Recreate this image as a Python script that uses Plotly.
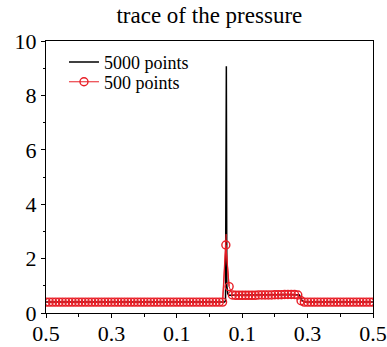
import numpy as np
import plotly.graph_objects as go

# 5000-point solution (key points)
black_x = [-0.5, 0.046, 0.049, 0.0515, 0.053, 0.056, 0.06, 0.10, 0.15, 0.20, 0.24, 0.265, 0.275, 0.283, 0.29, 0.5]
black_y = [0.40, 0.40, 0.45, 9.07, 1.00, 0.70, 0.65, 0.65, 0.66, 0.67, 0.68, 0.68, 0.66, 0.45, 0.40, 0.40]

# 500-point solution, sampled every 0.01
red_x = np.round(np.arange(-0.5, 0.5001, 0.01), 3)
red_y = [
    0.40, 0.40, 0.40, 0.40, 0.40, 0.40, 0.40, 0.40, 0.40, 0.40,
    0.40, 0.40, 0.40, 0.40, 0.40, 0.40, 0.40, 0.40, 0.40, 0.40,
    0.40, 0.40, 0.40, 0.40, 0.40, 0.40, 0.40, 0.40, 0.40, 0.40,
    0.40, 0.40, 0.40, 0.40, 0.40, 0.40, 0.40, 0.40, 0.40, 0.40,
    0.40, 0.40, 0.40, 0.40, 0.40, 0.40, 0.40, 0.40, 0.40, 0.40,
    0.40, 0.40, 0.40, 0.40, 0.40,
    2.50, 0.97,
    0.66, 0.65, 0.65, 0.65, 0.65, 0.65, 0.65, 0.65, 0.66, 0.66,
    0.66, 0.66, 0.66, 0.67, 0.67, 0.67, 0.68, 0.68, 0.68, 0.68,
    0.66, 0.45,
    0.40, 0.40, 0.40, 0.40, 0.40, 0.40, 0.40, 0.40, 0.40, 0.40,
    0.40, 0.40, 0.40, 0.40, 0.40, 0.40, 0.40, 0.40, 0.40, 0.40,
    0.40, 0.40,
]
# spike of the 500-point line between markers
red_spike_x = [0.04, 0.051, 0.05, 0.06]
red_spike_y = [0.40, 2.90, 2.50, 0.97]

x_tickvals = [-0.5, -0.3, -0.1, 0.1, 0.3, 0.5]
x_ticktext = ["0.5", "0.3", "0.1", "0.1", "0.3", "0.5"]
y_tickvals = [0, 2, 4, 6, 8, 10]

RED = "rgb(232,30,38)"
FONT = "Liberation Serif, Times New Roman, serif"

fig = go.Figure()
fig.add_trace(go.Scatter(x=black_x, y=black_y, mode="lines", name="5000 points",
                         line=dict(color="black", width=1.5), legend="legend"))
fig.add_trace(go.Scatter(x=red_spike_x, y=red_spike_y, mode="lines", showlegend=False,
                         line=dict(color=RED, width=1.2)))
fig.add_trace(go.Scatter(x=red_x, y=red_y, mode="lines+markers", name="500 points",
                         line=dict(color=RED, width=1), legend="legend2",
                         marker=dict(symbol="circle-open", size=8, color=RED,
                                     line=dict(width=1.4, color=RED))))

legend_style = dict(xanchor="left", yanchor="top", bgcolor="rgba(0,0,0,0)",
                    font=dict(size=18, family=FONT), tracegroupgap=0, itemwidth=30)

fig.update_layout(
    width=387, height=347,
    margin=dict(l=46, r=14, t=41, b=34, autoexpand=False),
    plot_bgcolor="white", paper_bgcolor="white",
    font=dict(family=FONT, color="black", size=22),
    title=dict(text="trace of the pressure", x=0.541, xanchor="center",
               y=0.935, yanchor="bottom", font=dict(size=23, family=FONT)),
    showlegend=True,
    legend=dict(x=0.055, y=0.99, **legend_style),
    legend2=dict(x=0.055, y=0.917, **legend_style),
)
fig.update_xaxes(range=[-0.5, 0.5], tickvals=x_tickvals, ticktext=x_ticktext,
                 automargin=False, ticklabelstandoff=-3,
                 showgrid=False, zeroline=False, showline=True, mirror=True,
                 linecolor="black", linewidth=1, ticks="outside", ticklen=4,
                 tickcolor="black", tickfont=dict(size=22, family=FONT),
                 minor=dict(tickvals=[-0.4, -0.2, 0.0, 0.2, 0.4], ticks="outside",
                            ticklen=3, tickcolor="black"))
fig.update_yaxes(range=[0, 10], tickvals=y_tickvals, automargin=False,
                 showgrid=False, zeroline=False, showline=True, mirror=True,
                 linecolor="black", linewidth=1, ticks="outside", ticklen=4,
                 tickcolor="black", tickfont=dict(size=22, family=FONT),
                 minor=dict(dtick=1, ticks="outside", ticklen=2, tickcolor="black"))

fig.write_html("out.html")
